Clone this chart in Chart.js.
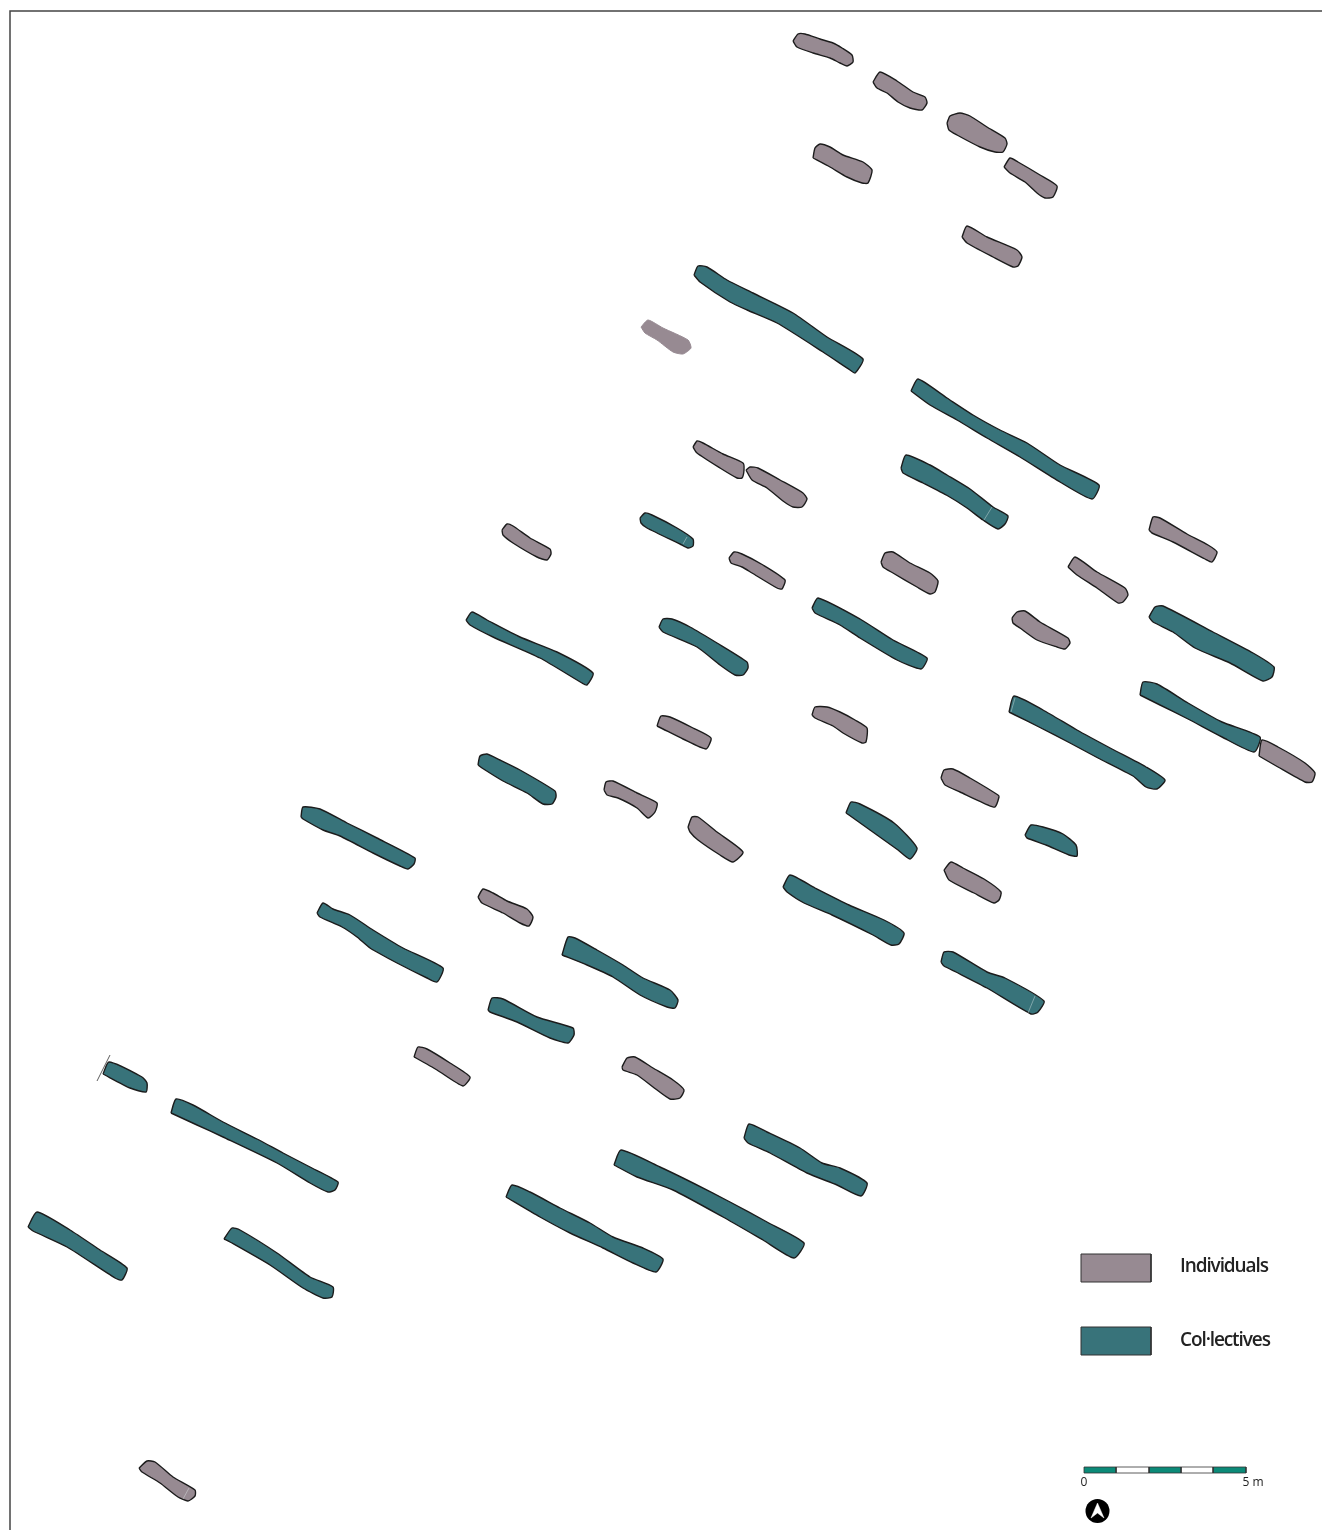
<!DOCTYPE html>
<html>
<head>
<meta charset="utf-8">
<style>
    html, body { margin: 0; padding: 0; background: #fff; }
    canvas { display: block; }
</style>
<script src="https://cdn.jsdelivr.net/npm/chart.js@4/dist/chart.umd.min.js"></script>
</head>
<body>
<canvas id="plan" width="1322" height="1530"></canvas>
<script>
// plan units are the pixels of the drawing, y going down
const PLAN_W = 1322;
const PLAN_H = 1530;

// grave outlines, x,y pairs
const individuals = [
    [793,41, 798,34, 805,34, 820,39, 833,43, 842,48, 852,55, 853,62, 847,66, 840,63, 830,58, 813,53, 797,47],
    [873,82, 880,72, 897,81, 913,92, 925,97, 927,103, 922,110, 910,108, 898,102, 887,93, 877,88],
    [947,123, 950,116, 960,113, 970,116, 987,127, 1005,138, 1007,144, 1003,152, 995,152, 980,147, 957,135, 949,130],
    [813,158, 815,148, 820,144, 830,147, 843,155, 863,162, 872,170, 868,183, 862,183, 847,177, 830,167],
    [1004,167, 1010,158, 1018,162, 1040,175, 1057,186, 1053,197, 1045,198, 1037,193, 1025,182, 1010,173],
    [962,237, 967,226, 987,237, 1017,250, 1022,257, 1018,266, 1013,267, 993,257, 967,243],
    [693,447, 697,441, 703,443, 723,454, 743,463, 744,470, 742,478, 737,478, 720,468, 697,453],
    [746,470, 750,467, 758,468, 780,480, 803,493, 807,499, 802,507, 793,507, 783,501, 767,488, 752,480],
    [502,530, 507,524, 513,526, 530,538, 550,549, 551,554, 547,560, 537,557, 513,543, 503,535],
    [729,558, 734,552, 742,554, 763,565, 785,580, 782,589, 777,588, 752,573, 742,567, 731,563],
    [881,562, 885,553, 893,552, 910,563, 930,573, 938,581, 935,592, 930,594, 917,587, 893,573, 883,567],
    [1068,567, 1075,557, 1097,572, 1125,588, 1128,595, 1123,602, 1118,603, 1097,588, 1077,575],
    [1149,530, 1153,517, 1160,518, 1187,534, 1208,545, 1217,552, 1212,562, 1205,559, 1173,542, 1152,533],
    [1012,618, 1017,612, 1025,611, 1040,622, 1068,638, 1070,643, 1065,649, 1057,647, 1037,640, 1020,628, 1013,623],
    [657,726, 661,716, 670,717, 693,728, 711,738, 706,749, 683,739, 663,729],
    [812,715, 815,707, 827,707, 840,712, 855,720, 867,728, 866,742, 862,743, 843,733, 833,726, 815,718],
    [1259,756, 1262,740, 1278,747, 1305,763, 1315,773, 1312,782, 1305,782, 1278,767],
    [941,778, 944,770, 953,769, 970,778, 998,795, 999,797, 995,807, 988,805, 960,792, 945,785],
    [944,870, 951,862, 963,868, 984,879, 1001,892, 999,900, 994,903, 974,893, 949,880],
    [604,790, 606,782, 613,781, 637,793, 657,803, 655,812, 648,818, 637,808, 618,798, 607,795],
    [688,827, 692,817, 698,817, 717,832, 743,852, 733,862, 720,855, 698,840, 690,832],
    [478,897, 483,889, 493,893, 507,901, 527,909, 533,917, 529,926, 520,923, 503,913, 482,903],
    [414,1057, 418,1047, 427,1049, 450,1063, 470,1077, 463,1086, 437,1070, 416,1058],
    [622,1067, 627,1058, 635,1057, 653,1068, 673,1080, 684,1090, 680,1098, 670,1099, 653,1087, 637,1075, 623,1070],
    [139,1468, 147,1461, 155,1462, 173,1477, 195,1490, 195,1496, 188,1501, 178,1497, 160,1483, 142,1472]
];

// this one has no ink outline in the original
const individualFaint = [641,327, 648,320, 663,328, 688,340, 691,348, 683,354, 673,352, 657,340, 645,333];

const collectives = [
    [694,275, 698,266, 707,267, 727,280, 753,293, 793,313, 827,337, 863,359, 855,373, 850,370, 823,352, 777,323, 747,310, 730,302, 700,282],
    [911,391, 918,379, 947,398, 973,415, 1000,430, 1027,443, 1060,465, 1099,485, 1092,499, 1060,482, 1020,457, 987,438, 957,420, 930,405],
    [901,468, 906,455, 930,465, 947,475, 970,489, 993,507, 1008,516, 1005,524, 998,529, 983,520, 967,508, 948,496, 923,483, 903,473],
    [1149,617, 1155,607, 1163,606, 1213,632, 1253,653, 1274,667, 1272,677, 1263,681, 1230,663, 1195,648, 1173,632, 1153,622],
    [640,518, 645,513, 652,515, 677,528, 693,539, 693,546, 688,548, 680,544, 647,528, 641,523],
    [466,620, 472,612, 487,620, 520,637, 557,652, 593,673, 587,685, 582,683, 540,658, 493,637, 470,625],
    [659,627, 663,619, 672,619, 690,627, 717,643, 747,662, 748,668, 743,675, 735,675, 720,665, 697,647, 663,632],
    [812,608, 818,598, 860,619, 893,640, 927,658, 921,669, 897,660, 860,638, 840,625, 815,613],
    [1009,712, 1014,696, 1043,710, 1077,730, 1112,749, 1146,767, 1165,780, 1157,789, 1146,787, 1133,776, 1098,758, 1070,743, 1039,727, 1015,715],
    [1140,695, 1143,682, 1157,684, 1188,703, 1222,722, 1260,737, 1254,752, 1222,737, 1188,719, 1160,705],
    [846,813, 851,802, 860,804, 894,823, 917,848, 910,859, 898,850, 870,830, 849,815],
    [1025,835, 1031,825, 1043,827, 1063,834, 1076,845, 1077,856, 1069,855, 1046,845, 1027,838],
    [783,887, 790,875, 815,888, 849,905, 884,920, 904,933, 899,944, 891,945, 873,935, 832,915, 804,903, 787,892],
    [941,962, 944,952, 953,952, 987,972, 1005,978, 1044,1001, 1038,1012, 1031,1014, 987,988, 956,972, 944,966],
    [478,765, 480,756, 487,754, 500,760, 520,770, 555,791, 556,797, 552,804, 543,804, 527,793, 503,781, 482,768],
    [301,817, 303,807, 320,809, 347,823, 377,838, 415,858, 414,864, 408,869, 400,866, 373,853, 340,836, 323,830, 303,819],
    [317,913, 323,903, 333,909, 350,915, 373,930, 403,948, 443,968, 437,982, 427,978, 397,963, 370,948, 357,937, 342,927, 320,917],
    [562,955, 568,937, 575,938, 597,950, 623,965, 643,978, 670,990, 678,1000, 675,1008, 667,1007, 640,995, 613,977, 587,965],
    [488,1010, 492,998, 503,999, 537,1017, 573,1028, 574,1035, 568,1043, 550,1038, 517,1022, 490,1012],
    [744,1138, 749,1124, 767,1132, 800,1148, 822,1163, 840,1168, 867,1183, 861,1196, 837,1185, 807,1173, 770,1153, 748,1143],
    [614,1165, 621,1150, 660,1167, 693,1183, 730,1202, 767,1222, 804,1243, 794,1258, 763,1240, 723,1217, 673,1190, 637,1177],
    [506,1197, 512,1185, 530,1192, 560,1208, 590,1223, 613,1237, 643,1248, 663,1259, 656,1272, 633,1263, 603,1248, 570,1233, 540,1217],
    [103,1074, 109,1062, 142,1077, 147,1083, 146,1092, 130,1088],
    [171,1113, 176,1099, 193,1105, 223,1122, 257,1139, 283,1153, 310,1167, 338,1182, 335,1190, 328,1192, 310,1183, 277,1163, 223,1137, 197,1125],
    [28,1227, 37,1212, 70,1230, 100,1250, 127,1268, 122,1280, 115,1278, 67,1247, 33,1231],
    [224,1239, 232,1228, 240,1230, 277,1253, 310,1277, 333,1287, 332,1297, 323,1298, 303,1288, 270,1265, 230,1242]
];

// pale joints across a few of the graves, and the cut at the western end
const joints = [
    [984,520, 992,507],
    [683,544, 687,537],
    [1011,712, 1015,698],
    [1028,1013, 1035,996],
    [183,1499, 189,1488]
];
const cutLine = [110,1055, 97,1081];
const frameLine = [10,1530, 10,11, 1322,11];

const legendLabels = ['Individuals', 'Col·lectives'];
const legendSwatches = [
    [1081,1254, 1151,1254, 1151,1282, 1081,1282],
    [1081,1327, 1151,1327, 1151,1355, 1081,1355]
];

const scaleBreaks = [1084, 1116, 1149, 1181, 1213, 1246];
const scaleLabels = ['0', '5 m'];
const northDisc = [1097.5, 1511];
const northArrow = [1097.5,1503, 1104,1518, 1097.5,1513, 1091,1518];

const GREY = '#978a92';
const TEAL = '#38737a';
const INK = '#1c1c1c';
const BAR_GREEN = '#0b8a78';

function toPoints(flat) {
    let pts = [];
    for (let i = 0; i < flat.length; i += 2) {
        pts.push({x: flat[i], y: flat[i + 1]});
    }
    return pts;
}

function closed(flat) {
    const pts = toPoints(flat);
    pts.push(pts[0]);
    return pts;
}

function shape(flat, fill, stroke, width, tension) {
    return {
        data: closed(flat),
        showLine: true,
        fill: 'shape',
        backgroundColor: fill,
        borderColor: stroke,
        borderWidth: width,
        borderJoinStyle: 'round',
        pointRadius: 0,
        tension: tension,
        clip: false
    };
}

function line(flat, stroke, width) {
    return {
        data: toPoints(flat),
        showLine: true,
        fill: false,
        borderColor: stroke,
        borderWidth: width,
        pointRadius: 0,
        clip: false
    };
}

// the first dataset ends up on top, so the arrow goes in before its disc
let datasets = [];
datasets.push(line(frameLine, '#444444', 1.5));
datasets.push(shape(northArrow, '#ffffff', '#ffffff', 0.5, 0));
datasets.push({
    data: [{x: northDisc[0], y: northDisc[1]}],
    showLine: false,
    pointRadius: 12,
    pointBackgroundColor: '#000000',
    pointBorderWidth: 0,
    clip: false
});
joints.forEach(o => datasets.push(line(o, 'rgba(225,235,235,0.6)', 0.7)));
individuals.forEach(o => datasets.push(shape(o, GREY, INK, 1.4, 0.2)));
datasets.push(shape(individualFaint, GREY, GREY, 1, 0.2));
collectives.forEach(o => datasets.push(shape(o, TEAL, INK, 1.4, 0.2)));
datasets.push(line(cutLine, '#333333', 0.8));

datasets.push(shape(legendSwatches[0], GREY, '#333333', 1, 0));
datasets.push(shape(legendSwatches[1], TEAL, '#333333', 1, 0));

// scale bar, alternating filled sections
for (let i = 0; i < scaleBreaks.length - 1; i++) {
    const a = scaleBreaks[i], b = scaleBreaks[i + 1];
    datasets.push(shape([a,1467, b,1467, b,1473, a,1473], i % 2 ? '#ffffff' : BAR_GREEN, '#333333', 0.8, 0));
}

// legend and scale bar text, placed through the same scales as the marks
const planText = {
    id: 'planText',
    afterDatasetsDraw(chart) {
        const {ctx, scales: {x, y}} = chart;
        const put = (txt, px, py, font, align) => {
            ctx.font = font;
            ctx.textAlign = align;
            ctx.textBaseline = 'middle';
            ctx.fillText(txt, x.getPixelForValue(px), y.getPixelForValue(py));
        };
        ctx.save();
        ctx.fillStyle = '#222222';
        ctx.letterSpacing = '-1.1px';
        put(legendLabels[0], 1180, 1267, '600 19px "Open Sans"', 'left');
        put(legendLabels[1], 1180, 1341, '600 19px "Open Sans"', 'left');
        ctx.letterSpacing = '0px';
        put(scaleLabels[0], 1084, 1483, '12px "Open Sans"', 'center');
        put(scaleLabels[1], 1253, 1483, '12px "Open Sans"', 'center');
        ctx.restore();
    }
};

new Chart(document.getElementById('plan'), {
    type: 'scatter',
    data: { datasets: datasets },
    options: {
        responsive: false,
        animation: false,
        devicePixelRatio: 1,
        layout: { padding: 0, autoPadding: false },
        plugins: {
            legend: { display: false },
            tooltip: { enabled: false }
        },
        scales: {
            x: { type: 'linear', display: false, min: 0, max: PLAN_W },
            y: { type: 'linear', display: false, min: 0, max: PLAN_H, reverse: true }
        }
    },
    plugins: [planText]
});
</script>
</body>
</html>
